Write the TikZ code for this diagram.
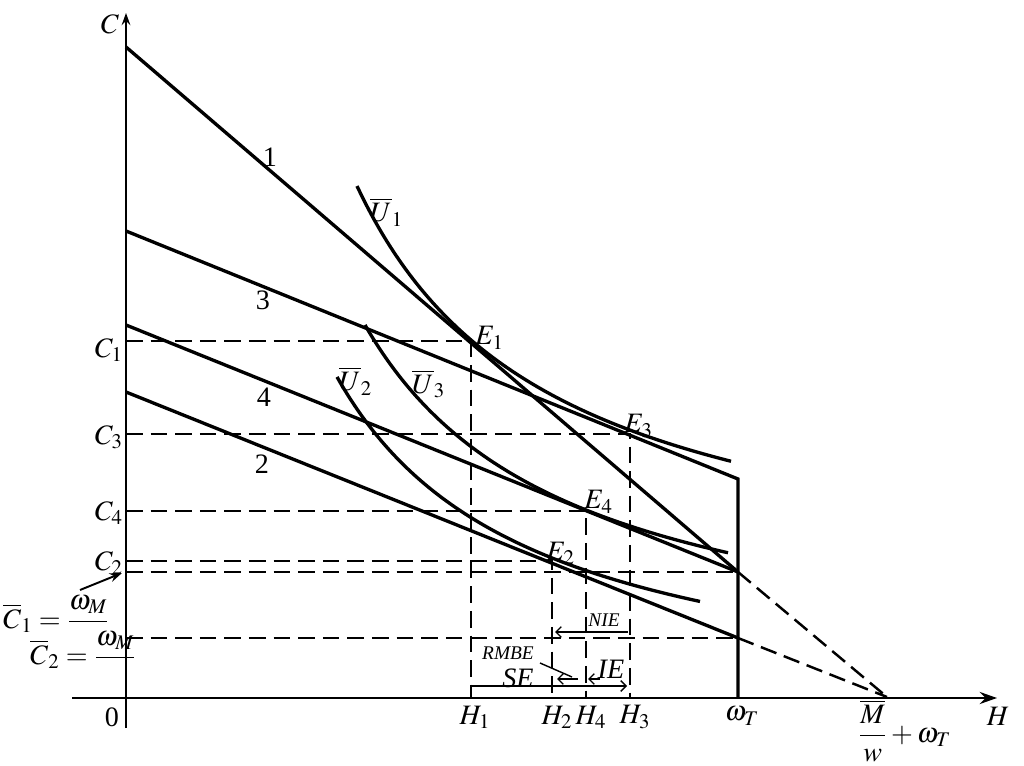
\documentclass[tikz,border=0pt]{standalone}
\usepackage{amsmath}
\usepackage{mathptmx}
\usepackage[no-math]{fontspec}
\setmainfont{Liberation Serif}
\usetikzlibrary{arrows.meta}
\begin{document}
\begin{tikzpicture}[x=0.02cm,y=-0.02cm,
  every node/.style={inner sep=0pt, font=\fontsize{16}{19}\selectfont},
  curve/.style={line width=1.9pt},
  axisline/.style={line width=1.1pt},
  guide/.style={line width=1.4pt, dash pattern=on 9.5pt off 4.5pt},
  effarrow/.style={line width=0.8pt, -{Straight Barb[length=3pt,width=6pt]}},
  smalltext/.style={font=\fontsize{11}{13}\selectfont\itshape}
]
\useasboundingbox (0,0) rectangle (1024,766);

% key points
\coordinate (O) at (126,698);
\coordinate (ytop) at (126,13);
\coordinate (ybot) at (126,728);
\coordinate (xl) at (72,698);
\coordinate (xr) at (997,698);
\coordinate (P1) at (126,47);
\coordinate (P3) at (126,231);
\coordinate (P4) at (126,325);
\coordinate (P2) at (126,392);
\coordinate (A1) at (738,572);
\coordinate (A2) at (738,638);
\coordinate (K3) at (738,479);
\coordinate (T) at (738,698);
\coordinate (Q) at (887,697);
\coordinate (E1) at (471,341);
\coordinate (E3) at (630,434);
\coordinate (E4) at (586,511);
\coordinate (E2) at (552,561);
\coordinate (yC1) at (126,341);
\coordinate (yC3) at (126,434);
\coordinate (yC4) at (126,511);
\coordinate (yC2) at (126,561);
\coordinate (yB1) at (126,572);
\coordinate (yB2) at (126,638);
\coordinate (xH1) at (471,698);
\coordinate (xH3) at (630,698);
\coordinate (xH4) at (586,698);
\coordinate (xH2) at (552,698);

% axes
\draw[axisline,-{Stealth[length=7pt,width=5pt,inset=2.5pt]}] (ybot) -- (ytop);
\draw[axisline,-{Stealth[length=10pt,width=7pt,inset=3.5pt]}] (xl) -- (xr);

% dashed guides
\draw[guide] (yC1) -- (E1) -- (xH1);
\draw[guide] (yC3) -- (E3) -- (xH3);
\draw[guide] (yC4) -- (E4) -- (xH4);
\draw[guide] (yC2) -- (E2) -- (xH2);
\draw[guide] (yB1) -- (A1);
\draw[guide] (yB2) -- (A2);
\draw[guide] (A1) -- (Q);
\draw[guide] (A2) -- (Q);

% budget lines
\draw[curve] (P1) -- (A1);
\draw[curve] (P3) -- (K3) -- (T);
\draw[curve] (P4) -- (A1);
\draw[curve] (P2) -- (A2);

% indifference curves
\draw[curve] plot[domain=357:731,samples=100] (\x,{606.4-828.99/((\x-159.8)/100)});
\draw[curve] plot[domain=337:700,samples=100] (\x,{721.8-671.09/((\x-142.4)/100)});
\draw[curve] plot[domain=365:728,samples=100] (\x,{680.9-726.8/((\x-160.8)/100)});

% axis labels
\node (Clab) at (110,24) {$C$};
\node (Hlab) at (998,716) {$H$};
\node (zero) at (112,717) {0};
\node (C1lab) at (109,350) {$C_1$};
\node (C3lab) at (109,437) {$C_3$};
\node (C4lab) at (109,513) {$C_4$};
\node (C2lab) at (109,563) {$C_2$};
\node (H1lab) at (475,717) {$H_1$};
\node (H2lab) at (557,717) {$H_2$};
\node (H4lab) at (591,717) {$H_4$};
\node (H3lab) at (635,717) {$H_3$};
\node (wTlab) at (742,716) {$\omega_T$};
\node[anchor=west] (Mlab) at (858,731) {$\dfrac{\overline{M}}{w}+\omega_T$};

% left labels
\node[anchor=west] (Cb1) at (3,622) {$\overline{C}_1=\dfrac{\omega_M}{\vphantom{w}}$};
\node[anchor=west] (Cb2) at (30,658) {$\overline{C}_2=\dfrac{\omega_M}{\vphantom{w}}$};
\coordinate (arrS) at (80,590);
\coordinate (arrE) at (122,573);
\draw[line width=1.1pt,-{Stealth[length=7pt,width=5pt]}] (arrS) -- (arrE);

% curve labels
\node (l1) at (270,157) {1};
\node (l3) at (263,300) {3};
\node (l4) at (264,397) {4};
\node (l2) at (262,464) {2};
\node[anchor=west] (U1lab) at (370,212) {$\overline{U}_1$};
\node[anchor=west] (U2lab) at (339,381) {$\overline{U}_2$};
\node[anchor=west] (U3lab) at (412,384) {$\overline{U}_3$};
\node[anchor=west] (E1lab) at (475,338) {$E_1$};
\node[anchor=west] (E3lab) at (624,426) {$E_3$};
\node[anchor=west] (E4lab) at (584,502) {$E_4$};
\node[anchor=west] (E2lab) at (546,553) {$E_2$};

% effect arrows
\coordinate (se1) at (472,686);
\coordinate (se2) at (627,686);
\draw[effarrow] (se1) -- (se2);
\node (SElab) at (518,678) {\textit{SE}};
\coordinate (nie1) at (628,632);
\coordinate (nie2) at (555,632);
\draw[effarrow] (nie1) -- (nie2);
\node[smalltext] (NIElab) at (604,620) {NIE};
\node[smalltext] (RMBElab) at (508,653) {RMBE};
\coordinate (rp1) at (540,663);
\coordinate (rp2) at (572,677);
\draw[line width=0.8pt] (rp1) -- (rp2);
\coordinate (rm1) at (578,679);
\coordinate (rm2) at (557,679);
\draw[effarrow] (rm1) -- (rm2);
\coordinate (ie1) at (600,679);
\coordinate (ie2) at (588,679);
\draw[effarrow] (ie1) -- (ie2);
\node (IElab) at (611,669) {\textit{IE}};
\end{tikzpicture}
\end{document}
